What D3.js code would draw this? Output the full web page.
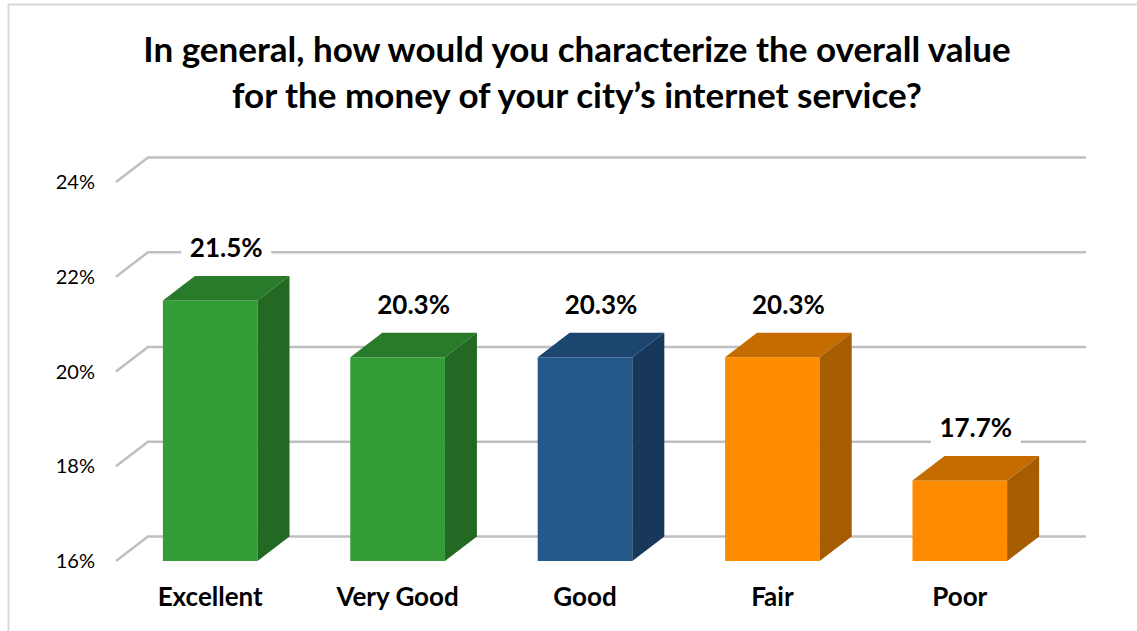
<!DOCTYPE html>
<html>
<head>
<meta charset="utf-8">
<script src="https://cdn.jsdelivr.net/npm/d3@7"></script>
<style>
  body { margin: 0; background: #fff; }
  text { font-family: Lato, "Open Sans", sans-serif; }
</style>
</head>
<body>
<div id="chart"></div>
<script>
var svgWidth = 1137;
var svgHeight = 631;

// data
var categories = ["Excellent", "Very Good", "Good", "Fair", "Poor"];
var values = [21.5, 20.3, 20.3, 20.3, 17.7];
var yTicks = [16, 18, 20, 22, 24];
var titleLines = [
  "In general, how would you characterize the overall value",
  "for the money of your city\u2019s internet service?"
];

// face colours per bar: front, top, side
var barColors = [
  ["#339c36", "#2a7a2c", "#236924"],
  ["#339c36", "#2a7a2c", "#236924"],
  ["#245a8b", "#1c466f", "#17385b"],
  ["#ff8c00", "#c46c00", "#a65c00"],
  ["#ff8c00", "#c46c00", "#a65c00"]
];

// depth of the 3d effect
var depthX = 32;
var depthY = -24.5;

var svg = d3.select("#chart")
  .append("svg")
  .attr("width", svgWidth)
  .attr("height", svgHeight);

// outer frame
svg.append("rect")
  .attr("x", 8.5)
  .attr("y", 4.5)
  .attr("width", 1140)
  .attr("height", 640)
  .attr("fill", "none")
  .attr("stroke", "#d9d9d9")
  .attr("stroke-width", 2);

// title
svg.append("g").selectAll("text")
  .data(titleLines)
  .enter()
  .append("text")
  .attr("x", 577)
  .attr("y", (d, i) => 62 + i * 46)
  .attr("text-anchor", "middle")
  .attr("font-size", "35px")
  .attr("font-weight", "bold")
  .attr("fill", "#000")
  .text(d => d);

var yScale = d3.scaleLinear()
  .domain([16, 24])
  .range([561, 182]);

var xScale = d3.scaleBand()
  .domain(categories)
  .range([116.5, 1053.5])
  .paddingInner(0.495)
  .paddingOuter(0.2475);

// gridlines: short diagonal on the side wall, then along the back wall
var gridGroup = svg.append("g");
gridGroup.selectAll("path")
  .data(yTicks)
  .enter()
  .append("path")
  .attr("d", d => {
    var y = yScale(d);
    return "M116," + y + "L" + (116 + depthX) + "," + (y + depthY) + "L1086," + (y + depthY);
  })
  .attr("fill", "none")
  .attr("stroke", "#bfbfbf")
  .attr("stroke-width", 2.5);

// y tick labels
svg.append("g").selectAll("text")
  .data(yTicks)
  .enter()
  .append("text")
  .attr("x", 95)
  .attr("y", d => yScale(d) + 7)
  .attr("text-anchor", "end")
  .attr("font-size", "20px")
  .attr("fill", "#000")
  .text(d => d + "%");

// bars
var bars = svg.append("g").selectAll("g")
  .data(values)
  .enter()
  .append("g");

var bw = xScale.bandwidth();
var y0 = yScale(16);

bars.append("rect")
  .attr("x", (d, i) => xScale(categories[i]))
  .attr("y", d => yScale(d))
  .attr("width", bw)
  .attr("height", d => y0 - yScale(d))
  .attr("fill", (d, i) => barColors[i][0]);

// top face
bars.append("path")
  .attr("d", (d, i) => {
    var x = xScale(categories[i]);
    var y = yScale(d);
    return "M" + x + "," + y +
      "L" + (x + depthX) + "," + (y + depthY) +
      "L" + (x + bw + depthX) + "," + (y + depthY) +
      "L" + (x + bw) + "," + y + "Z";
  })
  .attr("fill", (d, i) => barColors[i][1]);

// side face
bars.append("path")
  .attr("d", (d, i) => {
    var x = xScale(categories[i]) + bw;
    var y = yScale(d);
    return "M" + x + "," + y +
      "L" + (x + depthX) + "," + (y + depthY) +
      "L" + (x + depthX) + "," + (y0 + depthY) +
      "L" + x + "," + y0 + "Z";
  })
  .attr("fill", (d, i) => barColors[i][2]);

// value labels with white box behind them
var labels = svg.append("g").selectAll("g")
  .data(values)
  .enter()
  .append("g")
  .attr("transform", (d, i) => {
    var cx = xScale(categories[i]) + bw / 2 + depthX / 2;
    var cy = yScale(d) + depthY - 28;
    return "translate(" + cx + "," + cy + ")";
  });

labels.append("rect")
  .attr("x", -45)
  .attr("y", -16)
  .attr("width", 90)
  .attr("height", 32)
  .attr("fill", "#fff");

labels.append("text")
  .attr("y", 9)
  .attr("text-anchor", "middle")
  .attr("font-size", "26px")
  .attr("font-weight", "bold")
  .attr("fill", "#000")
  .text(d => d.toFixed(1) + "%");

// category labels
svg.append("g").selectAll("text")
  .data(categories)
  .enter()
  .append("text")
  .attr("x", d => xScale(d) + bw / 2)
  .attr("y", 606)
  .attr("text-anchor", "middle")
  .attr("font-size", "26px")
  .attr("font-weight", "bold")
  .attr("fill", "#000")
  .text(d => d);
</script>
</body>
</html>
